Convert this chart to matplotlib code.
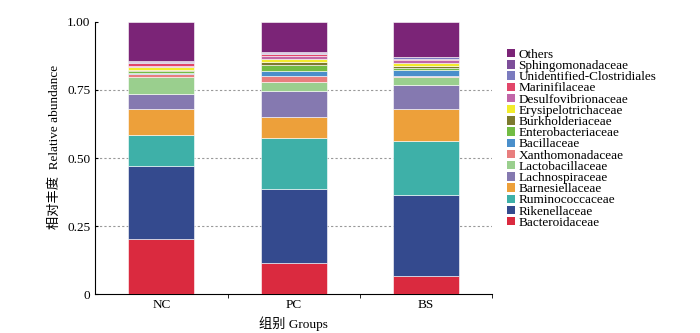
import numpy as np
import matplotlib.pyplot as plt
from matplotlib.patches import Patch

plt.rcParams['font.family'] = ['Liberation Serif', 'Noto Sans CJK SC']

groups = ["NC", "PC", "BS"]
taxa = ["Bacteroidaceae", "Rikenellaceae", "Ruminococcaceae", "Barnesiellaceae",
        "Lachnospiraceae", "Lactobacillaceae", "Xanthomonadaceae", "Bacillaceae",
        "Enterobacteriaceae", "Burkholderiaceae", "Erysipelotrichaceae",
        "Desulfovibrionaceae", "Marinifilaceae", "Unidentified-Clostridiales",
        "Sphingomonadaceae", "Others"]
colors = ["#DA2A3F", "#344A8E", "#3EB0A8", "#EDA03A", "#8579B0", "#9ACF8E",
          "#E87E7E", "#4A8FCB", "#72BC44", "#7C7A2E", "#F2EC2B", "#C166A8",
          "#E2466A", "#7B7BBF", "#7D4E9A", "#7B2477"]

bacteroidaceae = [0.202, 0.113, 0.067]
rikenellaceae = [0.269, 0.272, 0.296]
ruminococcaceae = [0.114, 0.190, 0.200]
barnesiellaceae = [0.094, 0.075, 0.117]
lachnospiraceae = [0.057, 0.097, 0.088]
lactobacillaceae = [0.062, 0.034, 0.030]
xanthomonadaceae = [0.012, 0.022, 0.005]
bacillaceae = [0.004, 0.015, 0.021]
enterobacteriaceae = [0.005, 0.025, 0.006]
burkholderiaceae = [0.003, 0.009, 0.009]
erysipelotrichaceae = [0.012, 0.013, 0.012]
desulfovibrionaceae = [0.005, 0.009, 0.010]
marinifilaceae = [0.010, 0.009, 0.004]
unidentified_clostridiales = [0.004, 0.004, 0.005]
sphingomonadaceae = [0.004, 0.003, 0.002]

values = np.array([bacteroidaceae, rikenellaceae, ruminococcaceae, barnesiellaceae,
                   lachnospiraceae, lactobacillaceae, xanthomonadaceae, bacillaceae,
                   enterobacteriaceae, burkholderiaceae, erysipelotrichaceae,
                   desulfovibrionaceae, marinifilaceae, unidentified_clostridiales,
                   sphingomonadaceae])
others = 1 - values.sum(axis=0)
values = np.vstack([values, others])

fig = plt.figure(figsize=(7, 3.33), dpi=100)
ax = fig.add_axes([0.136, 0.117, 0.567, 0.817])

x = np.arange(len(groups))
bottom = np.zeros(len(groups))
for i in range(len(taxa)):
    ax.bar(x, values[i], 0.5, bottom=bottom, color=colors[i],
           edgecolor="white", linewidth=0.4, zorder=3)
    bottom += values[i]

ax.set_xlim(-0.5, 2.5)
ax.set_ylim(0, 1.0)
ax.set_yticks([0, 0.25, 0.5, 0.75, 1.0])
ax.set_yticklabels(["0", "0.25", "0.50", "0.75", "1.00"], fontsize=9.5)
ax.set_xticks(x)
ax.set_xticklabels(groups, fontsize=9.5)
ax.tick_params(axis="x", length=0)
ax.set_xticks([0.5, 1.5, 2.5], minor=True)
ax.tick_params(axis="x", which="minor", length=3, direction="out")
ax.tick_params(axis="y", length=2, direction="in")
for yv in [0.25, 0.5, 0.75]:
    ax.axhline(yv, color="#999999", linestyle=(0, (2, 2)), linewidth=0.8, zorder=1)

ax.spines["top"].set_visible(False)
ax.spines["right"].set_visible(False)

ax.set_ylabel("相对丰度  Relative abundance", fontsize=9.5)
ax.yaxis.set_label_coords(-0.086, 0.54)
ax.set_xlabel("组别 Groups", fontsize=9.5, labelpad=4)

handles = [Patch(facecolor=colors[i], label=taxa[i]) for i in range(len(taxa))][::-1]
ax.legend(handles=handles, loc="upper left", bbox_to_anchor=(1.005, 0.95),
          frameon=False, fontsize=9.5, handlelength=0.6, handleheight=0.6,
          handletextpad=0.25, labelspacing=-0.06, borderaxespad=0.6)

fig.savefig("out.png", dpi=100)
